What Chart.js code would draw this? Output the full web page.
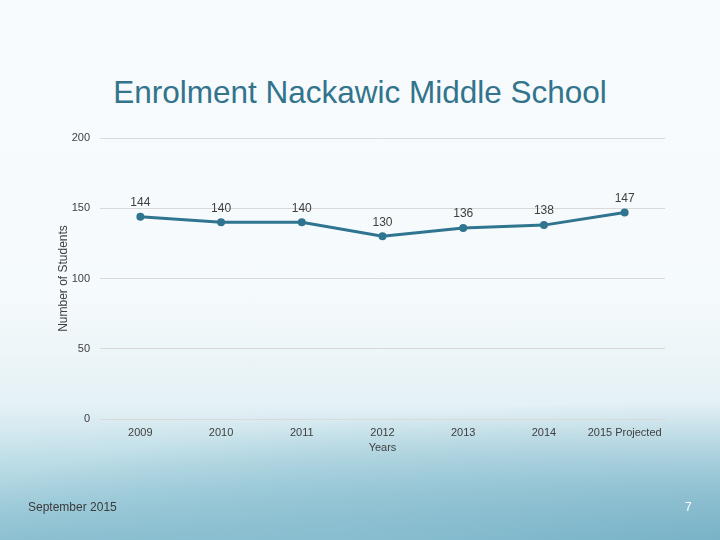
<!DOCTYPE html>
<html>
<head>
<meta charset="utf-8">
<script src="https://cdn.jsdelivr.net/npm/chart.js@4"></script>
<style>
    html, body { margin: 0; padding: 0; }
    body {
        width: 720px;
        height: 540px;
        position: relative;
        overflow: hidden;
        font-family: "Liberation Sans", Arial, sans-serif;
        background:
            radial-gradient(ellipse 620px 150px at 330px 560px, rgba(150, 200, 216, 0.55), rgba(150, 200, 216, 0) 100%),
            radial-gradient(ellipse 900px 200px at 720px 600px, rgba(95, 160, 185, 0.85), rgba(95, 160, 185, 0) 100%),
            linear-gradient(to bottom, #f8fbfd 0%, #f5fafc 55%, #e4f1f5 75%, #b9dbe5 88%, #8fc2d2 100%);
    }
    #title {
        position: absolute;
        left: 0; top: 74px; width: 720px;
        text-align: center;
        font-size: 31.5px;
        color: #31748c;
    }
    .footer {
        position: absolute;
        top: 500px;
        font-size: 12px;
    }
    #chart { position: absolute; left: 0; top: 0; }
</style>
</head>
<body>
<div id="title">Enrolment Nackawic Middle School</div>
<canvas id="chart" width="720" height="540"></canvas>
<div class="footer" style="left: 28px; color: #3a3a3a;">September 2015</div>
<div class="footer" style="left: 685px; color: #ffffff;">7</div>
<script>
const years = ['2009', '2010', '2011', '2012', '2013', '2014', '2015 Projected'];
const students = [144, 140, 140, 130, 136, 138, 147];
const yTicks = [0, 50, 100, 150, 200];

const pointLabels = {
    id: 'pointLabels',
    afterDatasetsDraw(chart) {
        const ctx = chart.ctx;
        const meta = chart.getDatasetMeta(0);
        ctx.save();
        ctx.font = '12px "Liberation Sans", Arial, sans-serif';
        ctx.fillStyle = '#404040';
        ctx.textAlign = 'center';
        ctx.textBaseline = 'middle';
        meta.data.forEach((pt, i) => {
            ctx.fillText(String(students[i]), pt.x, pt.y - 14);
        });
        ctx.restore();
    }
};

new Chart(document.getElementById('chart'), {
    type: 'line',
    data: {
        labels: years,
        datasets: [{
            data: students,
            borderColor: '#2f7590',
            backgroundColor: '#2f7590',
            borderWidth: 3,
            pointRadius: 2.5,
            pointHoverRadius: 2.5,
            tension: 0
        }]
    },
    options: {
        responsive: false,
        animation: false,
        layout: { padding: { left: 55, right: 55, top: 138, bottom: 83 } },
        plugins: {
            legend: { display: false },
            tooltip: { enabled: false }
        },
        scales: {
            x: {
                offset: true,
                grid: { display: false, drawTicks: false },
                border: { display: true, color: '#d9d9d9', width: 1 },
                ticks: {
                    color: '#404040',
                    font: { size: 11, family: '"Liberation Sans", Arial, sans-serif' },
                    padding: 7,
                    maxRotation: 0,
                    autoSkip: false
                },
                title: {
                    display: true,
                    text: 'Years',
                    color: '#404040',
                    font: { size: 11, family: '"Liberation Sans", Arial, sans-serif' },
                    padding: { top: 0, bottom: 2 }
                },
                afterFit(scale) { scale.height = 38; }
            },
            y: {
                min: 0,
                max: 200,
                afterBuildTicks(scale) { scale.ticks = yTicks.map(v => ({ value: v })); },
                grid: { color: '#d9d9d9', drawTicks: false },
                border: { display: false },
                ticks: {
                    color: '#404040',
                    font: { size: 11, family: '"Liberation Sans", Arial, sans-serif' },
                    padding: 10
                },
                title: {
                    display: true,
                    text: 'Number of Students',
                    color: '#404040',
                    font: { size: 12, family: '"Liberation Sans", Arial, sans-serif' },
                    padding: { top: 1, bottom: 0 }
                },
                afterFit(scale) { scale.width = 45; }
            }
        }
    },
    plugins: [pointLabels]
});
</script>
</body>
</html>
